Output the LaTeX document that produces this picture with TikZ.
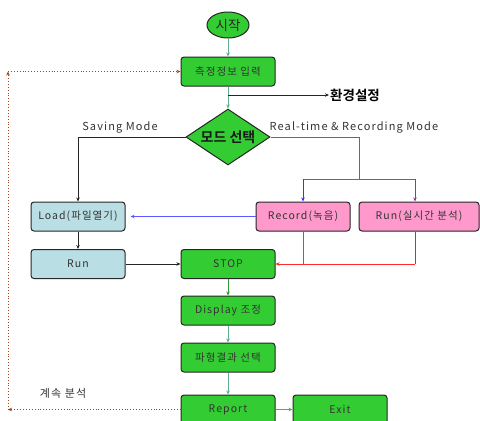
\documentclass[tikz,border=0pt]{standalone}
\usepackage{fontspec}
\setmainfont{Noto Sans CJK KR}[LetterSpace=10]
\newfontfamily\krbold{Noto Sans CJK KR}[BoldFont={* Bold}]
\usetikzlibrary{shapes.geometric,arrows.meta}
\definecolor{gfill}{HTML}{33CC33}
\definecolor{bfill}{HTML}{B9DFE4}
\definecolor{pfill}{HTML}{FF99CC}
\definecolor{teal1}{HTML}{5FAF8F}
\definecolor{green2}{HTML}{339933}
\definecolor{green3}{HTML}{44BB44}
\definecolor{blue1}{HTML}{5A5AFF}
\definecolor{blue2}{HTML}{3333FF}
\definecolor{blue3}{HTML}{6666AA}
\definecolor{purple1}{HTML}{993399}
\definecolor{red1}{HTML}{FF2A2A}
\definecolor{brown1}{HTML}{A0441A}
\definecolor{txt}{HTML}{333333}
\begin{document}
\begin{tikzpicture}[x=1pt,y=-1pt,
  box/.style={draw=black!85, line width=1pt, rounded corners=3pt, minimum width=94pt,
    minimum height=29pt, inner sep=0pt, font=\fontsize{10.5}{11}\selectfont, text=txt},
  gbox/.style={box, fill=gfill},
  bbox/.style={box, fill=bfill},
  pbox/.style={box, fill=pfill},
  tip/.style={-{Stealth[length=4pt,width=3.5pt]}},
  conn/.style={line width=0.9pt},
  lbl/.style={font=\fontsize{11}{12}\selectfont, text=txt}]
\useasboundingbox (0,0) rectangle (480,421);
% nodes
\node[ellipse, draw=black!85, line width=1pt, fill=gfill, minimum width=42pt, minimum height=26pt, inner sep=0pt, font=\krbold\fontsize{13.5}{14}\selectfont, text=black!85] (start) at (228,25) {시작};
\node[gbox] (meas) at (228,71.5) {측정정보 입력};
\node[diamond, draw=black!85, line width=1pt, fill=gfill, minimum width=84pt, minimum height=56pt, inner sep=0pt, aspect=1.5, font=\krbold\bfseries\fontsize{14}{15}\selectfont, text=black!90] (mode) at (228,137) {모드 선택};
\node[font=\krbold\bfseries\fontsize{13.5}{14}\selectfont, anchor=west, inner sep=1pt] (env) at (329,95) {환경설정};
\node[bbox] (load) at (78,216.5) {Load(파일열기)};
\node[pbox] (rec) at (303,216.5) {Record(녹음)};
\node[pbox, minimum width=120pt] (runrt) at (419,216.5) {Run(실시간 분석)};
\node[bbox] (run) at (78,264) {Run};
\node[gbox] (stop) at (228,264) {STOP};
\node[gbox] (disp) at (228,310.5) {Display 조정};
\node[gbox] (wave) at (228,357.5) {파형결과 선택};
\node[gbox] (report) at (228,409.5) {Report};
\node[gbox] (exit) at (340,409.5) {Exit};
% labels
\node[lbl] (lsave) at (120,127) {Saving Mode};
\node[lbl] (lreal) at (354,127) {Real-time \& Recording Mode};
\node[lbl] (lcont) at (63,393) {계속 분석};
% coordinates
\coordinate (envs) at (228,95);
\coordinate (sp) at (359,179);
\coordinate (jl) at (303,179);
\coordinate (jr) at (415,179);
\coordinate (br) at (415,264);
\coordinate (c1) at (8,409.5);
\coordinate (c2) at (8,71.5);
% connectors
\draw[conn, teal1, tip] (start) -- (meas);
\draw[conn, teal1, tip] (meas) -- (mode.north);
\draw[conn, black!85, tip] (envs) -- (env.west);
\draw[conn, black!85, tip] (mode.west) -| (load.north);
\draw[conn, red1] (mode.east) -| (sp);
\draw[conn, red1] (jl) -- (jr);
\draw[conn, blue2, tip] (jl) -- (rec.north);
\draw[conn, purple1, tip] (jr) -- (jr |- runrt.north);
\draw[conn, blue1, tip, shorten >=5pt] (rec.west) -- (load.east);
\draw[conn, black!85, tip] (load) -- (run);
\draw[conn, black!85, tip] (run) -- (stop);
\draw[conn, blue3] (rec.south) -- (rec.south |- stop.east);
\draw[conn, purple1] (jr |- runrt.south) -- (br);
\draw[conn, red1, tip] (br) -- (stop.east);
\draw[conn, green2, tip] (stop) -- (disp);
\draw[conn, teal1, tip] (disp) -- (wave);
\draw[conn, teal1, tip] (wave) -- (report);
\draw[conn, green3, tip] (report) -- (exit);
\draw[conn, brown1, dotted, tip] (report.west) -- (c1);
\draw[conn, brown1, dotted, tip] (c1) -- (c2);
\draw[conn, brown1, dotted, tip] (c2) -- (meas.west);
\end{tikzpicture}
\end{document}
